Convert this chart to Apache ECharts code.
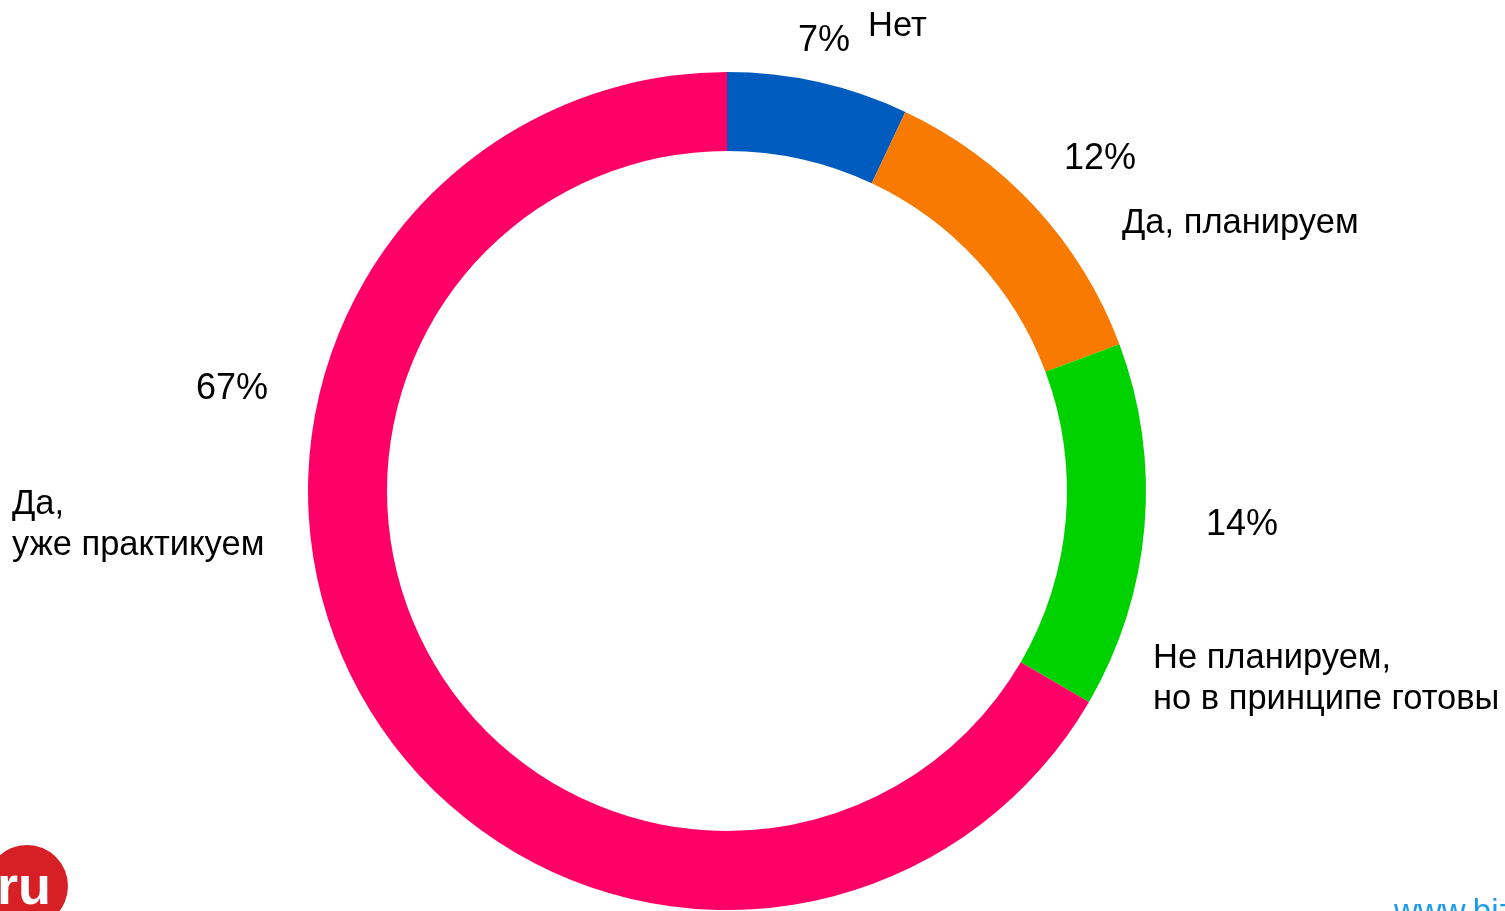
<!DOCTYPE html>
<html>
<head>
<meta charset="utf-8">
<style>
html,body{margin:0;padding:0;background:#fff;}
#chart{width:1505px;height:911px;}
</style>
<script src="https://cdn.jsdelivr.net/npm/echarts@6/dist/echarts.min.js"></script>
</head>
<body>
<div id="chart"></div>
<script>
const categories = ['Нет', 'Да, планируем', 'Не планируем,\nно в принципе готовы', 'Да,\nуже практикуем'];
const values = [7, 12.3, 14.1, 66.6];
const colors = ['#005BBF', '#F97A00', '#00D200', '#FF0066'];

const chart = echarts.init(document.getElementById('chart'));
const font = '"Liberation Sans", Arial, sans-serif';

const pctPos = [[824, 41], [1100, 159], [1242, 525], [232, 389]];
const namePos = [[868, 26], [1122, 223], [1153, 679], [12, 525]];

const graphics = [];
values.forEach((v, i) => {
  graphics.push({
    type: 'text', x: pctPos[i][0], y: pctPos[i][1],
    style: { text: Math.round(v) + '%', font: '36px ' + font, fill: '#000', align: 'center', verticalAlign: 'middle' }
  });
  graphics.push({
    type: 'text', x: namePos[i][0], y: namePos[i][1],
    style: { text: categories[i], font: '34.5px ' + font, fill: '#000', align: 'left', verticalAlign: 'middle', lineHeight: 41 }
  });
});
graphics.push({ type: 'circle', shape: { cx: 27, cy: 886, r: 41 }, style: { fill: '#D71F26' } });
graphics.push({ type: 'text', x: 24, y: 889, style: { text: 'ru', font: 'bold 54px ' + font, fill: '#fff', align: 'center', verticalAlign: 'middle' } });
graphics.push({ type: 'text', x: 1394, y: 896, style: { text: 'www.bizhr.ru', font: '33px ' + font, fill: '#1E9BE9', align: 'left', verticalAlign: 'top' } });

chart.setOption({
  backgroundColor: '#fff',
  animation: false,
  series: [{
    type: 'pie',
    center: [727, 491],
    radius: [340, 419],
    startAngle: 90,
    clockwise: true,
    label: { show: false },
    labelLine: { show: false },
    itemStyle: { borderWidth: 0 },
    data: values.map((v, i) => ({ name: categories[i], value: v, itemStyle: { color: colors[i] } }))
  }],
  graphic: graphics
});
</script>
</body>
</html>
